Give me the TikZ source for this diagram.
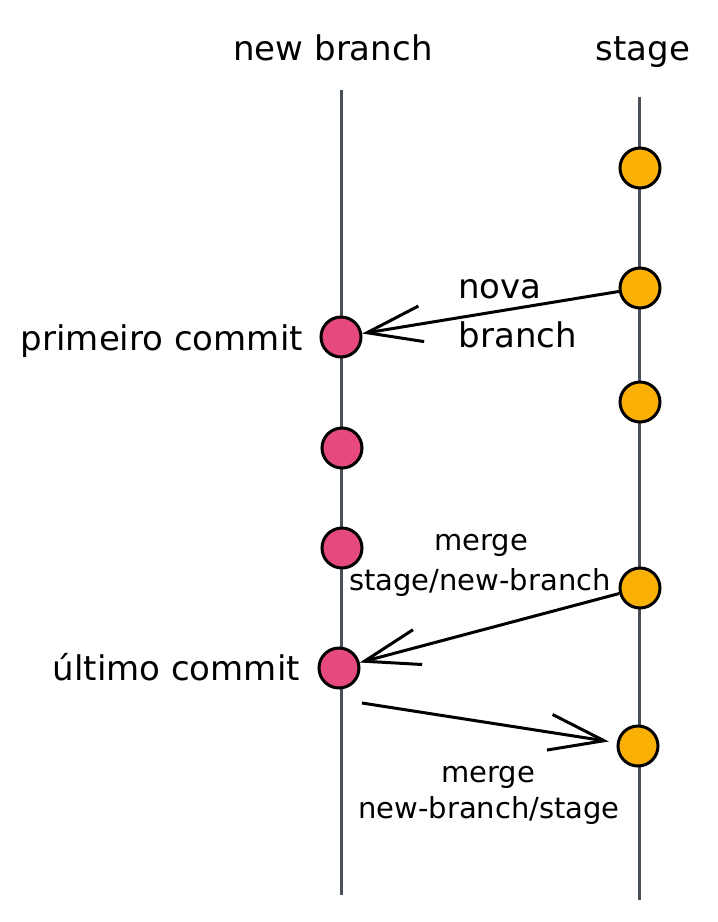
\documentclass[tikz,border=0pt]{standalone}
\usepackage{fontspec}
\setmainfont{DejaVu Sans}
\usetikzlibrary{arrows.meta}
\definecolor{rail}{HTML}{495057}
\definecolor{pinkc}{HTML}{E64980}
\definecolor{orangec}{HTML}{FAB005}
\tikzset{
  railline/.style={draw=rail, line width=3pt},
  commitp/.style={circle, draw=black, line width=3pt, fill=pinkc, minimum size=40pt, inner sep=0pt},
  commits/.style={circle, draw=black, line width=3pt, fill=orangec, minimum size=40pt, inner sep=0pt},
  bigtxt/.style={font=\fontsize{34}{40}\selectfont, anchor=base, inner sep=0pt},
  midtxt/.style={font=\fontsize{29}{34}\selectfont, anchor=base, inner sep=0pt},
  conn/.style={draw=black, line width=3pt, -{Straight Barb[length=55pt,width=36pt]}},
}
\begin{document}
\begin{tikzpicture}[x=1pt,y=-1pt]
\useasboundingbox (0,0) rectangle (718,922);
% titles
\node[bigtxt] (tnb) at (333,60) {new branch};
\node[bigtxt] (tst) at (643,60) {stage};
% rails
\coordinate (lt) at (341,90);
\coordinate (lb) at (341,895);
\coordinate (rt) at (639,97);
\coordinate (rb) at (639,900);
\draw[railline] (lt) -- (lb);
\draw[railline] (rt) -- (rb);
% stage commits
\node[commits] (s1) at (640,168) {};
\node[commits] (s2) at (640,288) {};
\node[commits] (s3) at (640,402) {};
\node[commits] (s4) at (640,588) {};
\node[commits] (s5) at (638,746) {};
% branch commits
\node[commitp] (p1) at (341,337) {};
\node[commitp] (p2) at (342,448) {};
\node[commitp] (p3) at (342,548) {};
\node[commitp] (p4) at (339,668) {};
% left labels
\node[bigtxt, anchor=base east] (l1) at (303,350) {primeiro commit};
\node[bigtxt, anchor=base east] (l2) at (300,680) {último commit};
% arrow labels
\node[bigtxt] (n1) at (500,298) {nova};
\node[bigtxt] (n2) at (518,347) {branch};
\node[midtxt] (m1) at (481,550) {merge};
\node[midtxt] (m2) at (480,590) {stage/new-branch};
\node[midtxt] (m3) at (488,782) {merge};
\node[midtxt] (m4) at (489,818) {new-branch/stage};
% connectors
\draw[conn] (s2) -- (p1);
\draw[conn] (s4) -- (p4);
\coordinate (a3) at (362,703);
\draw[conn, shorten >=8pt] (a3) -- (s5);
\end{tikzpicture}
\end{document}
